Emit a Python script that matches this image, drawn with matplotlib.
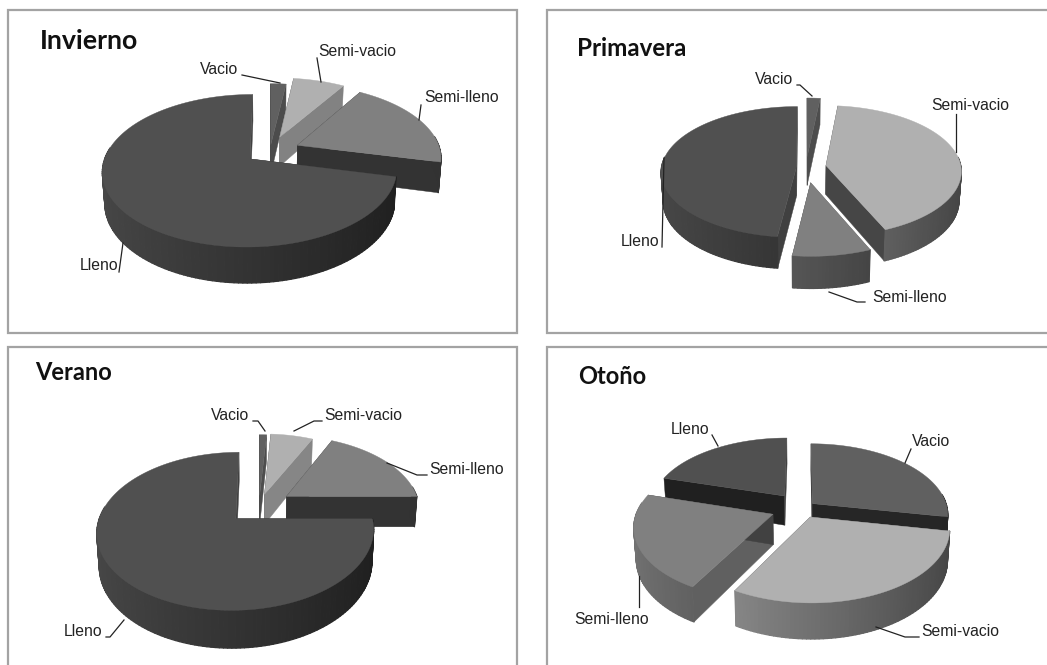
import numpy as np
import matplotlib
matplotlib.use("Agg")
import matplotlib.pyplot as plt
from matplotlib.patches import Polygon, Rectangle
from matplotlib.collections import PolyCollection

# percentages, clockwise from 12 o'clock
categories = ["Vacio", "Semi-vacio", "Semi-lleno", "Lleno"]
invierno = [2, 6.8, 19.9, 71.3]
primavera = [1.7, 41.8, 8.5, 48]
verano = [1, 6, 18, 75]
otono = [28, 30, 21.5, 20.5]

top_colors = ["#606060", "#b0b0b0", "#808080", "#505050"]
frame_color = "#a3a3a3"

# cx, cy, rx, ry, perspective, depth, explode per slice
panels = [
    dict(title="Invierno", values=invierno, box=(8, 10, 509, 323), tpos=(40, 41), tsize=19.3,
         geo=(270, 151, 143, 72, 0.152, 30), explode=[0.09, 0.21, 0.21, 0.175],
         labels=[(200, 69), (318, 52), (424, 98), (80, 266)],
         leaders=[[(242, 75), (280, 83)], [(317, 58), (321, 82)],
                  [(421, 105), (419, 120)], [(119, 272), (123, 243)]]),
    dict(title="Primavera", values=primavera, box=(547, 10, 520, 323), tpos=(577, 48), tsize=17.4,
         geo=(806, 167, 135, 65, 0.08, 29), explode=[0.16, 0.15, 0.24, 0.07],
         labels=[(755, 80), (931, 105), (872, 297), (621, 242)],
         leaders=[[(797, 85), (800, 85), (812, 96)], [(956, 114), (956, 152)],
                  [(865, 302), (857, 302), (829, 292)], [(662, 247), (664, 158)]]),
    dict(title="Verano", values=verano, box=(8, 347, 509, 340), tpos=(35, 372), tsize=17,
         geo=(259, 506, 133, 73, 0.155, 31), explode=[0.15, 0.17, 0.25, 0.24],
         labels=[(211, 416), (324, 416), (429, 469), (64, 632)],
         leaders=[[(253, 421), (258, 421), (265, 431)], [(322, 421), (314, 421), (294, 431)],
                  [(427, 475), (417, 475), (387, 463)], [(106, 637), (110, 637), (124, 620)]]),
    dict(title="Otoño", values=otono, box=(547, 347, 520, 340), tpos=(578, 377), tsize=17,
         geo=(802, 508, 135, 70, 0.15, 30), explode=[0.1, 0.14, 0.23, 0.22],
         labels=[(912, 442), (921, 631), (574, 619), (671, 429)],
         leaders=[[(911, 449), (905, 463)], [(919, 637), (905, 637), (876, 627)],
                  [(639, 607), (639, 576)], [(712, 435), (718, 446)]]),
]


def project(X, Y, z, geo):
    cx, cy, rx, ry, p, d = geo
    w = 1 + p * Y
    k = 1 - 0.015 * z
    return cx + rx * X * k / w, cy - ry * Y / w + d * z / w


def grey(base, f):
    return tuple(np.clip(np.array(matplotlib.colors.to_rgb(base)) * f, 0, 1))


def cut_wall(ax, ox, oy, t, side, base, geo):
    # flat wall along the radius at angle t, side=+1 for the end edge, -1 for the start edge
    X, Y = np.sin(t), np.cos(t)
    nx = side * Y
    f = 0.4 + 0.4 * max(nx, 0)
    pts = [project(ox, oy, 0, geo), project(ox + X, oy + Y, 0, geo),
           project(ox + X, oy + Y, 1, geo), project(ox, oy, 1, geo)]
    c = grey(base, f)
    ax.add_patch(Polygon(pts, facecolor=c, edgecolor=c, lw=0.3))


def draw_slice(ax, a1, a2, e, base, geo):
    mid = np.radians((a1 + a2) / 2)
    ox, oy = e * np.sin(mid), e * np.cos(mid)
    t = np.radians(np.arange(a1, a2, 1.5).tolist() + [a2])
    X, Y = np.sin(t), np.cos(t)

    cut_wall(ax, ox, oy, t[0], -1, base, geo)
    cut_wall(ax, ox, oy, t[-1], 1, base, geo)
    top = [project(ox + a, oy + b, 0, geo) for a, b in zip(X, Y)]
    bot = [project(ox + a, oy + b, 1, geo) for a, b in zip(X, Y)]
    # only the front part of the rim can be seen
    idx = [i for i in range(len(t) - 1) if Y[i] < 0.15]
    polys = [[top[i], top[i + 1], bot[i + 1], bot[i]] for i in idx]
    cols = [grey(base, 0.64 - 0.25 * X[i]) for i in idx]
    ax.add_collection(PolyCollection(polys, facecolors=cols, edgecolors=cols, linewidths=0.9))

    face = top + [project(ox, oy, 0, geo)]
    ax.add_patch(Polygon(face, facecolor=base, edgecolor=base, lw=0.3))


def draw_pie(ax, panel):
    vals = np.array(panel["values"], dtype=float)
    ends = np.cumsum(vals) / vals.sum() * 360
    starts = np.concatenate([[0], ends[:-1]])
    mids = np.radians((starts + ends) / 2)
    # back slices first
    for i in np.argsort(-np.cos(mids)):
        draw_slice(ax, starts[i], ends[i], panel["explode"][i], top_colors[i], panel["geo"])


fig = plt.figure(figsize=(10.47, 6.65), dpi=100)
ax = fig.add_axes([0, 0, 1, 1])
ax.set_xlim(0, 1047)
ax.set_ylim(665, 0)
ax.axis("off")

for panel in panels:
    x, y, w, h = panel["box"]
    ax.add_patch(Rectangle((x, y), w, h, facecolor="white", edgecolor=frame_color, lw=1.6))
    ax.text(panel["tpos"][0], panel["tpos"][1], panel["title"], family="Lato", weight="bold",
            fontsize=panel["tsize"], color="#111111", va="center", ha="left")
    draw_pie(ax, panel)
    for name, pos in zip(categories, panel["labels"]):
        ax.text(pos[0], pos[1], name, family="Liberation Sans", fontsize=11.3,
                color="#222222", va="center", ha="left")
    for line in panel["leaders"]:
        pts = np.array(line)
        ax.plot(pts[:, 0], pts[:, 1], color="#222222", lw=0.9)

fig.savefig("out.png", dpi=100)
